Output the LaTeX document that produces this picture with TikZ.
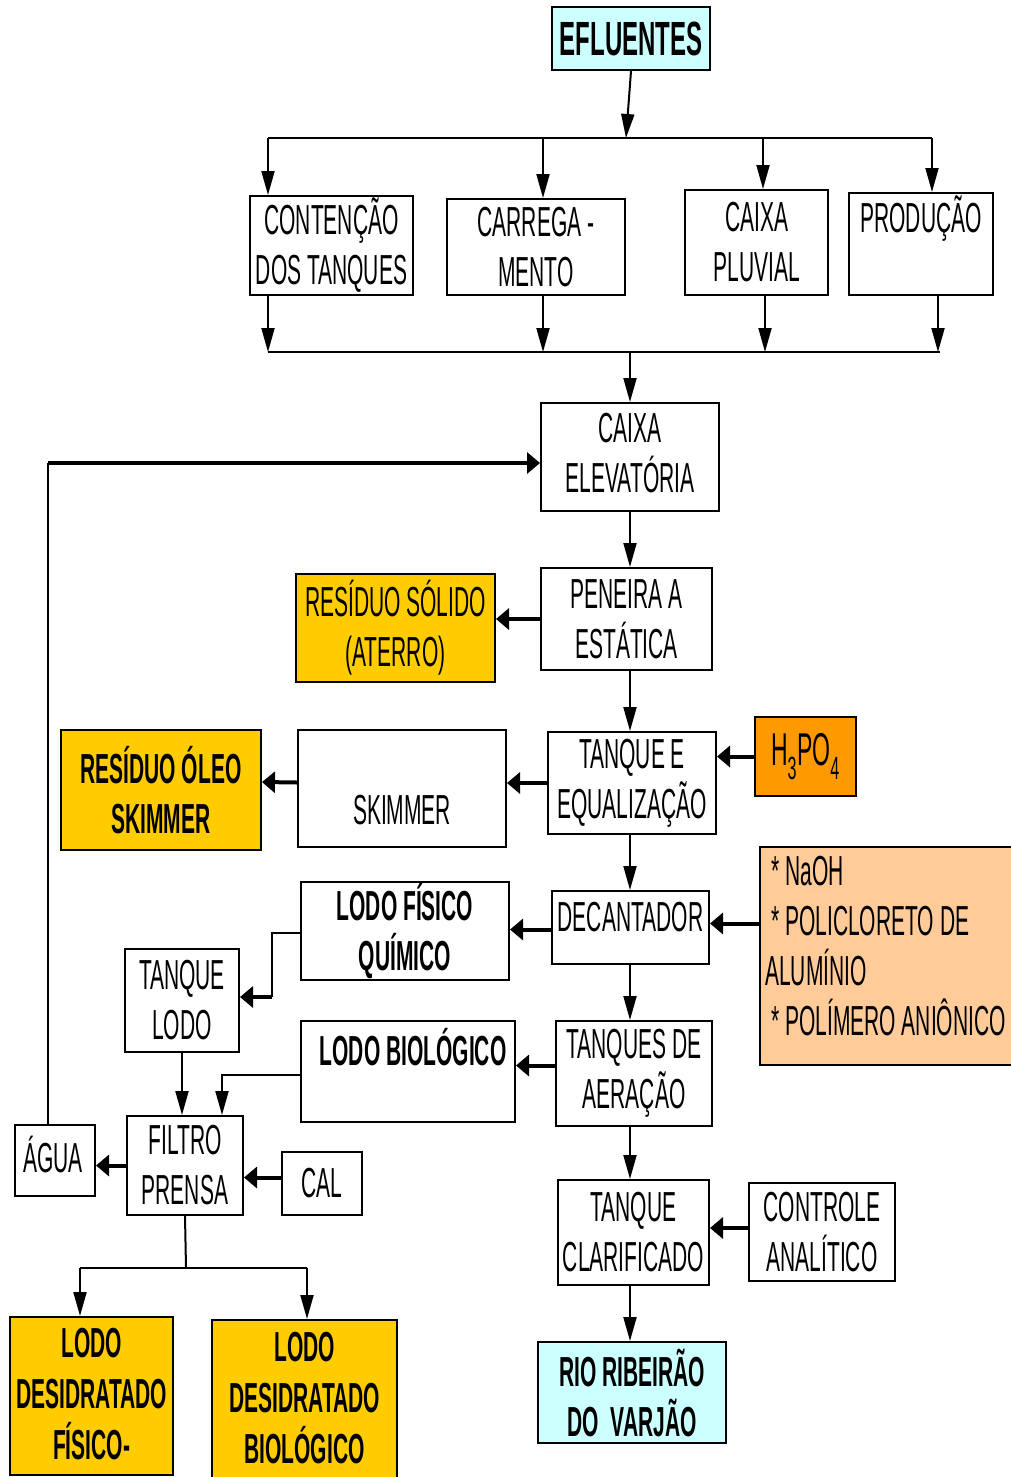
\documentclass[tikz,border=0pt]{standalone}
\usepackage{fontspec}
\setmainfont[FakeStretch=0.5]{Liberation Sans}
\usepackage{xcolor}
\usetikzlibrary{arrows.meta, positioning}

\definecolor{skyfill}{HTML}{CCFFFF}
\definecolor{goldfill}{HTML}{FFCC00}
\definecolor{acidfill}{HTML}{FF9900}
\definecolor{peachfill}{HTML}{FFCC99}

\begin{document}
\begin{tikzpicture}[
    x=1pt, y=-1pt,
    font=\fontsize{42}{50}\selectfont,
    box/.style={rectangle, draw=black, line width=2pt, fill=white, inner sep=0pt, align=center},
    boldbox/.style={box, font=\fontsize{42}{50}\selectfont\bfseries},
    txt/.style={inner sep=0pt, align=center},
    flow/.style={-{Triangle[length=24pt, width=13pt]}, line width=2pt},
    feed/.style={-{Triangle[length=13pt, width=21pt]}, line width=4pt},
    plain/.style={line width=2pt},
]
    \useasboundingbox (0,0) rectangle (1010,1477);

    % ===== TOP: sources =====
    \node[boldbox, fill=skyfill, minimum width=158, minimum height=63, font=\fontsize{48}{50}\selectfont\bfseries] (efl) at (631,38.5) {EFLUENTES};
    \node[box, minimum width=163, minimum height=99] (cont) at (331.5,245.5) {CONTENÇÃO\\DOS TANQUES};
    \node[box, minimum width=178, minimum height=96] (carr) at (536,247) {CARREGA -\\MENTO};
    \node[box, minimum width=143, minimum height=105] (pluv) at (756.5,242.5) {CAIXA\\PLUVIAL};
    \node[box, minimum width=144, minimum height=102] (prod) at (921,244) {};
    \node[txt] (prodTxt) at (921,219) {PRODUÇÃO};

    % bus lines
    \coordinate (busT) at (626,138);
    \coordinate (bT1) at (268,138);
    \coordinate (bT2) at (543,138);
    \coordinate (bT3) at (763,138);
    \coordinate (bT4) at (932,138);
    \coordinate (busB) at (630,352);
    \coordinate (bB1) at (268,352);
    \coordinate (bB2) at (543,352);
    \coordinate (bB3) at (765,352);
    \coordinate (bB4) at (938,352);
    \coordinate (bBend) at (940,352);
    \coordinate (spine) at (630,0);

    \draw[flow] (efl.south) -- (busT);
    \draw[plain] (bT1) -- (bT4);
    \draw[flow] (bT1) -- (bT1 |- cont.north);
    \draw[flow] (bT2) -- (bT2 |- carr.north);
    \draw[flow] (bT3) -- (bT3 |- pluv.north);
    \draw[flow] (bT4) -- (bT4 |- prod.north);
    \draw[flow] (bB1 |- cont.south) -- (bB1);
    \draw[flow] (bB2 |- carr.south) -- (bB2);
    \draw[flow] (bB3 |- pluv.south) -- (bB3);
    \draw[flow] (bB4 |- prod.south) -- (bB4);
    \draw[plain] (bB1) -- (bBend);

    % ===== MAIN LINE =====
    \node[box, minimum width=178, minimum height=108] (caixaE) at (630,457) {CAIXA\\ELEVATÓRIA\vphantom{g}};
    \node[box, minimum width=171, minimum height=102] (peneira) at (626.5,619) {PENEIRA A\\ESTÁTICA};
    \node[box, fill=goldfill, minimum width=199, minimum height=108] (solido) at (395.5,628) {RESÍDUO SÓLIDO\\(ATERRO)};
    \node[box, minimum width=168, minimum height=102] (tanqueE) at (632,783) {TANQUE E\\EQUALIZAÇÃO};
    \node[box, fill=acidfill, minimum width=101, minimum height=79, font=\fontsize{46}{50}\selectfont] (acid) at (805.5,756.5) {H\textsubscript{3}PO\textsubscript{4}};
    \node[box, minimum width=208, minimum height=117] (skim) at (402,788.5) {};
    \node[txt] (skimTxt) at (402,810) {SKIMMER};
    \node[boldbox, fill=goldfill, minimum width=200, minimum height=120] (oleo) at (161,790) {RESÍDUO ÓLEO\\SKIMMER};
    \node[box, minimum width=157, minimum height=73] (decant) at (630.5,927.5) {};
    \node[txt] (decantTxt) at (630.5,917) {DECANTADOR};
    \node[box, fill=peachfill, minimum width=260, minimum height=218] (chem) at (890,956) {};
    \node[txt, anchor=west, align=left] (chemTxt) at (765,946.5) {\hspace*{6pt}* NaOH\\\hspace*{6pt}* POLICLORETO DE\\ALUMÍNIO\\\hspace*{6pt}* POLÍMERO ANIÔNICO};
    \node[boldbox, minimum width=208, minimum height=98] (lodoF) at (405,931) {LODO FÍSICO\\QUÍMICO};
    \node[box, minimum width=114, minimum height=103] (tLodo) at (182,1000.5) {TANQUE\\LODO};
    \node[box, minimum width=156, minimum height=105] (tAer) at (634,1073.5) {TANQUES DE\\AERAÇÃO};
    \node[box, minimum width=214, minimum height=101] (lodoB) at (408,1071.5) {};
    \node[txt, font=\fontsize{42}{50}\selectfont\bfseries] (lodoBTxt) at (413,1047) {LODO BIOLÓGICO};
    \node[box, minimum width=116, minimum height=99] (filtro) at (185,1165.5) {FILTRO\\PRENSA};
    \node[box, minimum width=80, minimum height=71] (agua) at (55,1160.5) {};
    \node[txt] (aguaTxt) at (53,1154) {ÁGUA};
    \node[box, minimum width=80, minimum height=63] (cal) at (322,1183.5) {CAL};
    \node[box, minimum width=151, minimum height=105] (tClar) at (633.5,1232.5) {TANQUE\\CLARIFICADO};
    \node[box, minimum width=146, minimum height=98] (ctrl) at (822,1232) {CONTROLE\\ANALÍTICO};
    \node[boldbox, fill=skyfill, minimum width=188, minimum height=101] (rio) at (632,1392.5) {RIO RIBEIRÃO\\DO\ \ VARJÃO};

    % ===== BOTTOM: dewatered sludge =====
    \node[box, fill=goldfill, minimum width=163, minimum height=158] (desF) at (91.5,1396) {};
    \node[txt, font=\fontsize{42}{51}\selectfont\bfseries] (desFTxt) at (91.5,1394) {LODO\\DESIDRATADO\\FÍSICO-};
    \node[box, fill=goldfill, minimum width=185, minimum height=170] (desB) at (304.5,1405) {};
    \node[txt, font=\fontsize{42}{51}\selectfont\bfseries] (desBTxt) at (304.5,1398) {LODO\\DESIDRATADO\\BIOLÓGICO};

    % ===== CONNECTORS =====
    \draw[flow] (busB) -- (spine |- caixaE.north);
    \draw[flow] (spine |- caixaE.south) -- (spine |- peneira.north);
    \draw[feed] (peneira.west) -- (peneira.west -| solido.east);
    \draw[flow] (spine |- peneira.south) -- (spine |- tanqueE.north);
    \draw[feed] (acid.west) -- (acid.west -| tanqueE.east);
    \draw[feed] (tanqueE.west) -- (tanqueE.west -| skim.east);
    \draw[feed] ([yshift=6pt]skim.west) -- ([yshift=8pt]oleo.east);
    \draw[flow] (spine |- tanqueE.south) -- (spine |- decant.north);
    \draw[feed] ([yshift=4pt]decant.east -| chem.west) -- ([yshift=4pt]decant.east);
    \draw[feed] ([yshift=-2pt]decant.west) -- ([yshift=-2pt]decant.west -| lodoF.east);
    \draw[flow] (spine |- decant.south) -- (spine |- tAer.north);
    \draw[feed] ([yshift=8pt]tAer.west) -- ([yshift=8pt]tAer.west -| lodoB.east);
    \draw[flow] (spine |- tAer.south) -- (spine |- tClar.north);
    \draw[feed] ([yshift=4pt]ctrl.west) -- ([yshift=4pt]ctrl.west -| tClar.east);
    \draw[flow] (spine |- tClar.south) -- (spine |- rio.north);

    % sludge lines
    \coordinate (lfA) at (272,933);
    \coordinate (lfB) at (272,997);
    \draw[plain] (lfA -| lodoF.west) -- (lfA) -- (lfB);
    \draw[feed] (lfB) -- (lfB -| tLodo.east);
    \coordinate (lbA) at (222,1075);
    \draw[flow] (lbA -| lodoB.west) -- (lbA) -- (lbA |- filtro.north);
    \draw[flow] (tLodo.south) -- (tLodo.south |- filtro.north);
    \draw[feed] (filtro.west) -- (filtro.west -| agua.east);
    \draw[feed] ([yshift=6pt]cal.west) -- ([yshift=6pt]cal.west -| filtro.east);

    % filter press outputs
    \coordinate (fpBus) at (186,1268);
    \coordinate (fpL) at (80,1268);
    \coordinate (fpR) at (307,1268);
    \draw[plain] (filtro.south) -- (fpBus);
    \draw[plain] (fpL) -- (fpR);
    \draw[flow] (fpL) -- (fpL |- desF.north);
    \draw[flow] (fpR) -- (fpR |- desB.north);

    % water back to the lift box
    \coordinate (feedCorner) at (48,463);
    \draw[plain] (agua.north -| feedCorner) -- (feedCorner);
    \draw[feed] (feedCorner) -- (feedCorner -| caixaE.west);

\end{tikzpicture}
\end{document}
